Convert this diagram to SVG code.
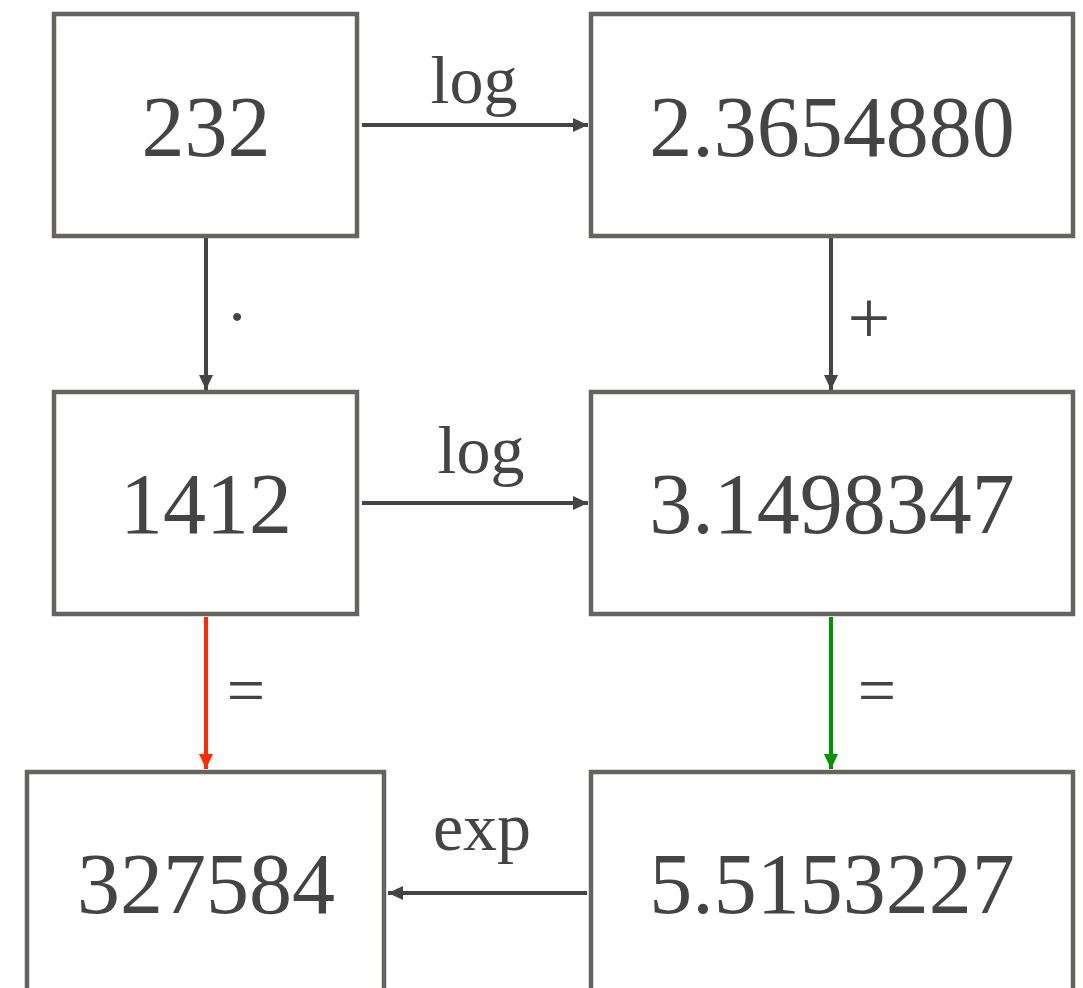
<svg xmlns="http://www.w3.org/2000/svg" width="1083" height="988" viewBox="0 0 1083 988">
  <defs>
    <style>
      .box { fill: #ffffff; stroke: #67635f; stroke-width: 4.5; }
      .val { font-family: "Liberation Serif", "Times New Roman", serif; font-size: 86px; fill: #444444; text-anchor: middle; }
      .lbl { font-family: "Liberation Serif", "Times New Roman", serif; font-size: 68px; fill: #444444; text-anchor: middle; }
      .edge { stroke: #444444; stroke-width: 4; fill: none; }
    </style>
    <marker id="ah" viewBox="0 0 15 14" refX="15" refY="7" markerUnits="userSpaceOnUse" markerWidth="15" markerHeight="14" orient="auto">
      <path d="M0,0 L15,7 L0,14 Z" fill="#444444"/>
    </marker>
    <marker id="ah-red" viewBox="0 0 15 14" refX="15" refY="7" markerUnits="userSpaceOnUse" markerWidth="15" markerHeight="14" orient="auto">
      <path d="M0,0 L15,7 L0,14 Z" fill="#ff2a00"/>
    </marker>
    <marker id="ah-green" viewBox="0 0 15 14" refX="15" refY="7" markerUnits="userSpaceOnUse" markerWidth="15" markerHeight="14" orient="auto">
      <path d="M0,0 L15,7 L0,14 Z" fill="#009400"/>
    </marker>
  </defs>
  <rect width="1083" height="988" fill="#ffffff"/>

  <!-- connectors -->
  <g id="connectors">
    <line class="edge" x1="362" y1="125" x2="588" y2="125" marker-end="url(#ah)"/>
    <text class="lbl" x="474" y="103">log</text>

    <line class="edge" x1="206" y1="238" x2="206" y2="390" marker-end="url(#ah)"/>
    <text class="lbl" x="237" y="339">·</text>

    <line class="edge" x1="831" y1="238" x2="831" y2="390" marker-end="url(#ah)"/>
    <text class="lbl" x="869" y="343" style="font-size:76px">+</text>

    <line class="edge" x1="362" y1="503" x2="588" y2="503" marker-end="url(#ah)"/>
    <text class="lbl" x="481" y="473">log</text>

    <line class="edge" x1="206" y1="617" x2="206" y2="769" style="stroke:#ff2a00" marker-end="url(#ah-red)"/>
    <text class="lbl" x="246" y="713">=</text>

    <line class="edge" x1="831" y1="617" x2="831" y2="769" style="stroke:#009400" marker-end="url(#ah-green)"/>
    <text class="lbl" x="877" y="713">=</text>

    <line class="edge" x1="587" y1="893" x2="388" y2="893" marker-end="url(#ah)"/>
    <text class="lbl" x="482" y="850">exp</text>
  </g>

  <!-- nodes -->
  <g id="n232">
    <rect class="box" x="54" y="14" width="303" height="222"/>
    <text class="val" x="206" y="156">232</text>
  </g>
  <g id="n2_3654880">
    <rect class="box" x="591" y="14" width="482" height="222"/>
    <text class="val" x="832" y="156">2.3654880</text>
  </g>
  <g id="n1412">
    <rect class="box" x="54" y="392" width="303" height="222"/>
    <text class="val" x="206" y="533">1412</text>
  </g>
  <g id="n3_1498347">
    <rect class="box" x="591" y="392" width="482" height="222"/>
    <text class="val" x="832" y="533">3.1498347</text>
  </g>
  <g id="n327584">
    <rect class="box" x="27" y="772" width="357" height="250"/>
    <text class="val" x="206" y="913">327584</text>
  </g>
  <g id="n5_5153227">
    <rect class="box" x="591" y="772" width="482" height="250"/>
    <text class="val" x="832" y="913">5.5153227</text>
  </g>
</svg>
